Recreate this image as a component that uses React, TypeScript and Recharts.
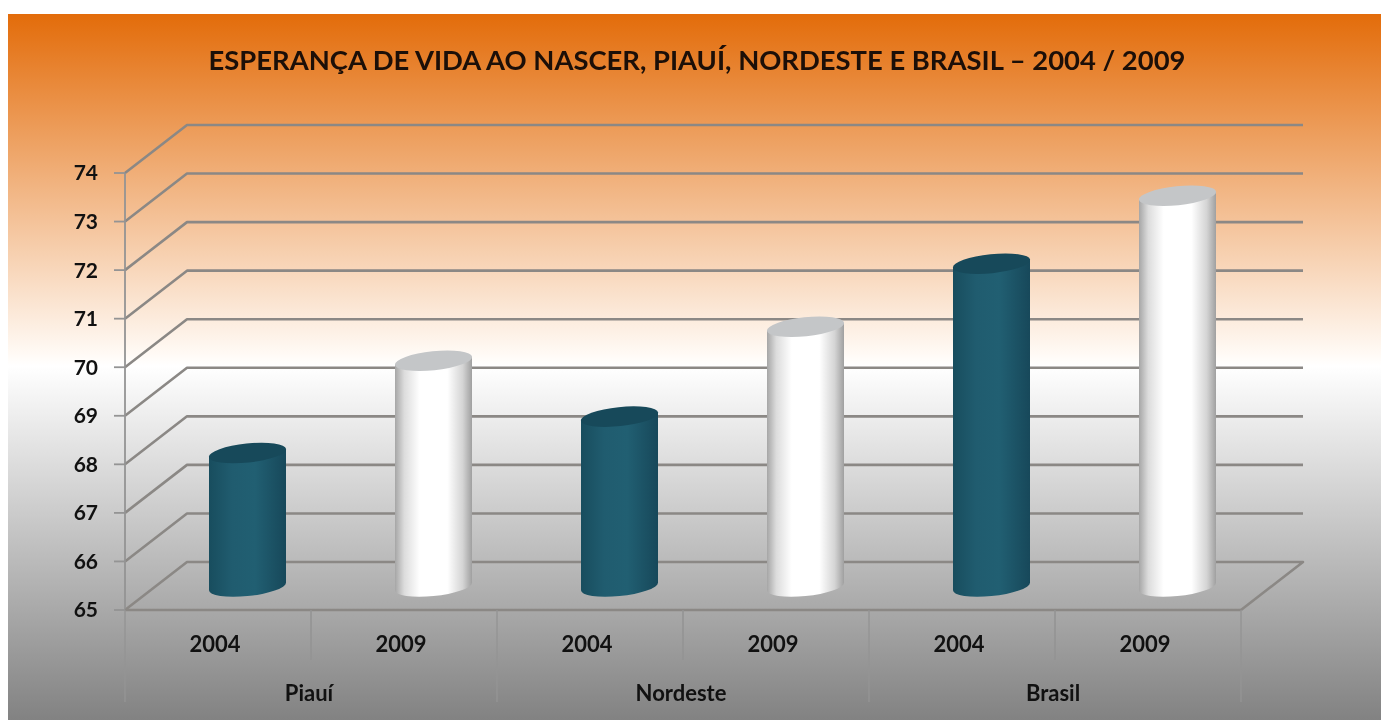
import React from "react";
import { ComposedChart, Bar, XAxis, YAxis, CartesianGrid } from "recharts";

const TITLE = "ESPERANÇA DE VIDA AO NASCER, PIAUÍ, NORDESTE E BRASIL – 2004 / 2009";
const groups = ["Piauí", "Piauí", "Nordeste", "Nordeste", "Brasil", "Brasil"];
const years = ["2004", "2009", "2004", "2009", "2004", "2009"];
const values = [67.8, 69.7, 68.55, 70.4, 71.7, 73.1];
const yTicks = [65, 66, 67, 68, 69, 70, 71, 72, 73, 74];
const data = years.map((year, i) => ({ key: i, year, group: groups[i], value: values[i] }));

const W = 1373;
const H = 706;
const DEPTH_X = 62;
const DEPTH_Y = 48;
const BAR_DX = 29;
const BAR_DY = -21;
const BASE_LIFT = 2.5;
const GRID = "#8b8885";
const AXIS = "#949494";
const FONT = "Lato, Carlito, sans-serif";
const TEXT = "#111111";

function WallLine(props: any) {
  const { x1, y1, x2, y, height } = props;
  const isFloor = Math.abs(y1 - (y + height)) < 0.5;
  const d = `M${x1} ${y1}L${x1 + DEPTH_X} ${y1 - DEPTH_Y}L${x2 + DEPTH_X} ${y1 - DEPTH_Y}` + (isFloor ? `L${x2} ${y1}` : "");
  return <path d={d} fill="none" stroke={GRID} strokeWidth={2.6} strokeLinejoin="round" />;
}

function Cylinder(props: any) {
  const { x, y, width, height, payload } = props;
  const white = payload.year === "2009";
  const left = x + BAR_DX;
  const right = left + width;
  const cx = left + width / 2;
  const top = y + BAR_DY;
  const base = y + height + BAR_DY - BASE_LIFT;
  const rx = width / 2;
  const ry = 9.5;
  const rot = -6;
  const tilt = 3.8;
  const body = `M${left} ${top + tilt}L${left} ${base + tilt}A${rx} ${ry} ${rot} 0 0 ${right} ${base - tilt}L${right} ${top - tilt}Z`;
  return (
    <g>
      <path d={body} fill={white ? "url(#cylWhite)" : "url(#cylTeal)"} />
      <ellipse
        cx={cx}
        cy={top}
        rx={rx + 0.3}
        ry={ry}
        transform={`rotate(${rot} ${cx} ${top})`}
        fill={white ? "#c4c6c8" : "#17495a"}
      />
    </g>
  );
}

function YearTick(props: any) {
  const { x, y, index, payload } = props;
  const half = 93;
  const y0 = y - 8;
  const isGroupStart = index % 2 === 0;
  return (
    <g>
      <text x={x - 3} y={y0 + 33} textAnchor="middle" dominantBaseline="central" fontFamily={FONT} fontWeight={700} fontSize={22} fill={TEXT}>
        {payload.value}
      </text>
      {isGroupStart && (
        <text x={x + half - 2} y={y0 + 82} textAnchor="middle" dominantBaseline="central" fontFamily={FONT} fontWeight={700} fontSize={22} fill={TEXT}>
          {data[index].group}
        </text>
      )}
      {isGroupStart ? (
        <line x1={x + half} x2={x + half} y1={y0} y2={y0 + 50} stroke={AXIS} strokeWidth={1.6} />
      ) : (
        <line x1={x + half} x2={x + half} y1={y0} y2={y0 + 92} stroke={AXIS} strokeWidth={1.4} />
      )}
      {index === 0 && <line x1={x - half} x2={x - half} y1={y0} y2={y0 + 92} stroke={AXIS} strokeWidth={1.4} />}
    </g>
  );
}

export default function App() {
  return (
    <div
      style={{
        position: "absolute",
        left: 8,
        top: 14,
        width: W,
        height: H,
        overflow: "hidden",
        filter: "blur(0.5px)",
        background:
          "linear-gradient(to bottom, #E36C0A 0px, #fffaf5 340px, #ffffff 352px, #828282 706px)",
      }}
    >
      <div
        style={{
          position: "absolute",
          left: 0,
          width: 1378,
          top: 28,
          textAlign: "center",
          fontFamily: FONT,
          fontWeight: 700,
          fontSize: 27.4,
          lineHeight: "36px",
          color: "#1c0f08",
          whiteSpace: "nowrap",
        }}
      >
        {TITLE}
      </div>
      <ComposedChart
        width={W}
        height={H}
        data={data}
        margin={{ top: 159, right: 140, bottom: 0, left: 0 }}
        style={{ position: "absolute", left: 0, top: 0 }}
      >
        <defs>
          <linearGradient id="cylTeal" x1="0" x2="1" y1="0" y2="0">
            <stop offset="0" stopColor="#184d5e" />
            <stop offset="0.3" stopColor="#205c6f" />
            <stop offset="0.6" stopColor="#215f72" />
            <stop offset="1" stopColor="#17485a" />
          </linearGradient>
          <linearGradient id="cylWhite" x1="0" x2="1" y1="0" y2="0">
            <stop offset="0" stopColor="#a6a6a6" />
            <stop offset="0.12" stopColor="#dcdcdc" />
            <stop offset="0.32" stopColor="#ffffff" />
            <stop offset="0.68" stopColor="#ffffff" />
            <stop offset="0.88" stopColor="#d4d4d4" />
            <stop offset="1" stopColor="#a0a0a0" />
          </linearGradient>
        </defs>
        <CartesianGrid vertical={false} horizontal={(p: any) => <WallLine key={p.key ?? p.y1} {...p} />} />
        <YAxis
          type="number"
          domain={[65, 74]}
          ticks={yTicks}
          interval={0}
          width={117}
          tickSize={11}
          tickMargin={16}
          axisLine={{ stroke: AXIS, strokeWidth: 1.8 }}
          tickLine={{ stroke: AXIS, strokeWidth: 1.8 }}
          tick={{ fontFamily: FONT, fontWeight: 700, fontSize: 21, fill: TEXT }}
        />
        <XAxis
          dataKey="key"
          type="category"
          height={110}
          interval={0}
          axisLine={{ stroke: GRID, strokeWidth: 2.4 }}
          tickLine={false}
          tickFormatter={(_: any, i: number) => years[i]}
          tick={(p: any) => <YearTick {...p} payload={{ value: years[p.index] }} />}
        />
        <Bar dataKey="value" barSize={77} isAnimationActive={false} shape={(p: any) => <Cylinder {...p} />} />
      </ComposedChart>
    </div>
  );
}
